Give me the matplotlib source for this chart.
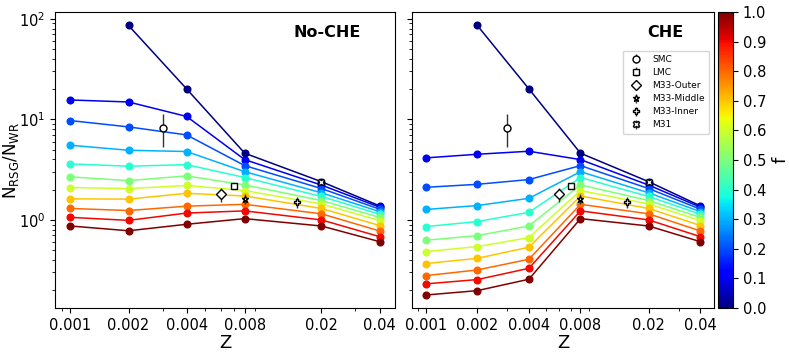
import numpy as np
import matplotlib
matplotlib.use("Agg")
import matplotlib.pyplot as plt
from matplotlib.ticker import NullFormatter, FixedLocator, FixedFormatter

# metallicity grid and mixing fractions
Z = [0.001, 0.002, 0.004, 0.008, 0.02, 0.04]
f_vals = [0.0, 0.1, 0.2, 0.3, 0.4, 0.5, 0.6, 0.7, 0.8, 0.9, 1.0]

# N_RSG/N_WR, no chemically homogeneous evolution (one row per f)
ratio_noche = [
    [np.nan, 85.9, 20.1, 4.61, 2.40, 1.38],
    [15.6, 14.9, 10.7, 3.98, 2.22, 1.34],
    [9.73, 8.42, 7.01, 3.47, 2.05, 1.28],
    [5.53, 4.93, 4.79, 3.02, 1.86, 1.21],
    [3.61, 3.42, 3.55, 2.64, 1.71, 1.14],
    [2.68, 2.46, 2.74, 2.23, 1.56, 1.06],
    [2.10, 2.05, 2.20, 1.96, 1.44, 0.985],
    [1.62, 1.61, 1.84, 1.73, 1.30, 0.88],
    [1.30, 1.24, 1.37, 1.43, 1.15, 0.777],
    [1.06, 0.99, 1.17, 1.23, 1.00, 0.682],
    [0.87, 0.78, 0.905, 1.03, 0.87, 0.608],
]

# with chemically homogeneous evolution
ratio_che = [
    [np.nan, 85.9, 20.1, 4.61, 2.40, 1.38],
    [4.14, 4.50, 4.82, 3.98, 2.22, 1.34],
    [2.11, 2.26, 2.52, 3.47, 2.05, 1.28],
    [1.27, 1.39, 1.64, 3.02, 1.86, 1.21],
    [0.858, 0.963, 1.19, 2.64, 1.71, 1.14],
    [0.628, 0.698, 0.871, 2.23, 1.56, 1.06],
    [0.484, 0.543, 0.667, 1.96, 1.44, 0.985],
    [0.368, 0.415, 0.535, 1.73, 1.30, 0.88],
    [0.279, 0.318, 0.406, 1.43, 1.15, 0.777],
    [0.231, 0.255, 0.330, 1.23, 1.00, 0.682],
    [0.179, 0.198, 0.257, 1.03, 0.87, 0.608],
]

# observed galaxies
obs_names = ["SMC", "LMC", "M33-Outer", "M33-Middle", "M33-Inner", "M31"]
obs_Z = [0.003, 0.007, 0.006, 0.008, 0.015, 0.02]
obs_ratio = [8.3, 2.19, 1.80, 1.61, 1.50, 2.40]
obs_err = [3.0, 0.15, 0.28, 0.18, 0.18, 0.10]
obs_markers = ["o", "s", "D", "*", "P", "X"]

cmap = plt.get_cmap("jet")

fig = plt.figure(figsize=(7.89, 3.55), dpi=100)
W, H = 789.0, 355.0
ax1 = fig.add_axes([55 / W, 47 / H, 340 / W, 296 / H])
ax2 = fig.add_axes([412 / W, 47 / H, 302 / W, 296 / H], sharey=ax1)
cax = fig.add_axes([718 / W, 47 / H, 15 / W, 296 / H])


def draw_panel(ax, ratio, title, tx):
    for f, row in zip(f_vals, ratio):
        ax.plot(Z, row, "-o", color=cmap(f), lw=1.1, ms=4.8)
    for name, x, y, e, m in zip(obs_names, obs_Z, obs_ratio, obs_err, obs_markers):
        ax.errorbar([x], [y], yerr=[e], fmt=m, mfc="white", mec="black",
                    ecolor="#333333", elinewidth=1.0, ms=5, mew=1.0,
                    label=name, zorder=5)
    ax.set_xscale("log")
    ax.set_yscale("log")
    ax.xaxis.set_major_locator(FixedLocator(Z))
    ax.xaxis.set_major_formatter(FixedFormatter([str(z) for z in Z]))
    ax.xaxis.set_minor_formatter(NullFormatter())
    ax.tick_params(labelsize=10.5)
    ax.set_xlabel("Z", fontsize=13, labelpad=1)
    ax.text(tx, 0.93, title, transform=ax.transAxes,
            ha="center", va="center", fontsize=11.5, fontweight="bold")


draw_panel(ax1, ratio_noche, "No-CHE", 0.8)
draw_panel(ax2, ratio_che, "CHE", 0.84)
ax1.set_ylim(0.133, 117)
ax1.set_ylabel(r"$\mathrm{N_{RSG}/N_{WR}}$", fontsize=12)
ax1.yaxis.set_label_coords(-0.10, 0.5)
plt.setp(ax2.get_yticklabels(), visible=False)

ax2.legend(loc="upper right", bbox_to_anchor=(1.0, 0.885), fontsize=6.5,
           handletextpad=0.8, borderpad=0.5, labelspacing=0.45)

sm = plt.cm.ScalarMappable(cmap=cmap, norm=plt.Normalize(0, 1))
cb = fig.colorbar(sm, cax=cax, ticks=np.arange(0, 1.01, 0.1))
cb.ax.tick_params(labelsize=10.5)
cb.set_label("f", fontsize=13)

plt.savefig("out.png", dpi=100)
